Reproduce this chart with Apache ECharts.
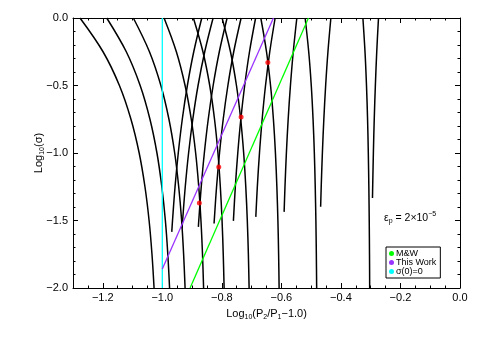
<!DOCTYPE html>
<html>
<head>
<meta charset="utf-8">
<script src="https://cdn.jsdelivr.net/npm/echarts@6/dist/echarts.min.js"></script>
<style>
html, body { margin: 0; padding: 0; background: #fff; }
#chart { width: 485px; height: 339px; }
</style>
</head>
<body>
<div id="chart"></div>
<script>
// log10(sigma) levels used for the left edges of each resonance
const sigmaLevels = [0, -0.25, -0.5, -0.75, -1, -1.25, -1.5, -1.75, -2];

// left edges (x = log10(P2/P1-1)) of the n+1:n resonances, n = 10 .. 2
const leftEdge10 = [-1.2765, -1.1991, -1.1441, -1.1053, -1.0777, -1.0583, -1.0444, -1.0347, -1.0277];
const leftEdge9  = [-1.1867, -1.1210, -1.0744, -1.0415, -1.0180, -1.0016, -0.9897, -0.9815, -0.9756];
const leftEdge8  = [-1.0973, -1.0432, -1.0048, -0.9777, -0.9584, -0.9449, -0.9351, -0.9284, -0.9235];
const leftEdge7  = [-0.9941, -0.9528, -0.9235, -0.9027, -0.8880, -0.8776, -0.8702, -0.8650, -0.8613];
const leftEdge6  = [-0.8956, -0.8635, -0.8407, -0.8246, -0.8131, -0.8051, -0.7993, -0.7953, -0.7924];
const leftEdge5  = [-0.7992, -0.7710, -0.7509, -0.7367, -0.7267, -0.7196, -0.7145, -0.7109, -0.7084];
const leftEdge4  = [-0.6691, -0.6500, -0.6364, -0.6268, -0.6200, -0.6152, -0.6117, -0.6093, -0.6076];
const leftEdge3  = [-0.5202, -0.5082, -0.4996, -0.4936, -0.4893, -0.4863, -0.4841, -0.4826, -0.4815];
const leftEdge2  = [-0.3262, -0.3191, -0.3141, -0.3105, -0.3080, -0.3062, -0.3049, -0.3040, -0.3034];

// right edges, they stop before the bottom: [x, log10(sigma)]
const rightEdge10 = [[-0.8674, 0], [-0.8944, -0.25], [-0.9158, -0.5], [-0.9329, -0.75], [-0.9464, -1], [-0.9572, -1.25], [-0.9657, -1.5], [-0.9682, -1.584]];
const rightEdge9  = [[-0.8294, 0], [-0.8575, -0.25], [-0.8799, -0.5], [-0.8976, -0.75], [-0.9117, -1], [-0.9229, -1.25], [-0.9318, -1.5], [-0.9336, -1.557]];
const rightEdge8  = [[-0.7824, 0], [-0.8085, -0.25], [-0.8292, -0.5], [-0.8457, -0.75], [-0.8588, -1], [-0.8692, -1.25], [-0.8775, -1.5], [-0.8788, -1.547]];
const rightEdge7  = [[-0.7353, 0], [-0.7601, -0.25], [-0.7797, -0.5], [-0.7954, -0.75], [-0.8078, -1], [-0.8177, -1.25], [-0.8255, -1.5], [-0.8261, -1.522]];
const rightEdge6  = [[-0.6866, 0], [-0.7071, -0.25], [-0.7233, -0.5], [-0.7363, -0.75], [-0.7465, -1], [-0.7547, -1.25], [-0.7612, -1.503]];
const rightEdge5  = [[-0.6210, 0], [-0.6390, -0.25], [-0.6533, -0.5], [-0.6646, -0.75], [-0.6736, -1], [-0.6808, -1.25], [-0.6859, -1.473]];
const rightEdge4  = [[-0.5481, 0], [-0.5601, -0.25], [-0.5696, -0.5], [-0.5772, -0.75], [-0.5832, -1], [-0.5879, -1.25], [-0.5908, -1.436]];
const rightEdge3  = [[-0.4338, 0], [-0.4436, -0.25], [-0.4513, -0.5], [-0.4574, -0.75], [-0.4623, -1], [-0.4662, -1.25], [-0.4681, -1.398]];
const rightEdge2  = [[-0.2738, 0], [-0.2797, -0.25], [-0.2843, -0.5], [-0.2881, -0.75], [-0.2910, -1], [-0.2933, -1.25], [-0.2940, -1.333]];

// straight lines and overlap points
const mwLine = [[-0.9067, -2.0], [-0.5091, 0]];
const thisWorkLine = [[-1.0, -1.86], [-0.6267, 0]];
const sigmaZeroLine = [[-1.0, -2.0], [-1.0, 0]];
const overlapPoints = [[-0.8755, -1.370], [-0.8103, -1.104], [-0.7353, -0.734], [-0.6455, -0.329]];

// tick labels
const xTicks = [-1.2, -1.0, -0.8, -0.6, -0.4, -0.2, 0.0];
const yTicks = [0.0, -0.5, -1.0, -1.5, -2.0];

const FONT = '"Liberation Sans", Arial, sans-serif';

const leftEdges = [leftEdge10, leftEdge9, leftEdge8, leftEdge7, leftEdge6, leftEdge5, leftEdge4, leftEdge3, leftEdge2];
const rightEdges = [rightEdge10, rightEdge9, rightEdge8, rightEdge7, rightEdge6, rightEdge5, rightEdge4, rightEdge3, rightEdge2];

function fmt(v) {
    return v.toFixed(1).replace('-', '\u2212');
}

function curve(data) {
    return {
        type: 'line', data: data, smooth: 0.35, showSymbol: false, silent: true,
        lineStyle: { color: '#000', width: 1.5 }, z: 2
    };
}

const series = [];
leftEdges.forEach(xs => series.push(curve(xs.map((x, i) => [x, sigmaLevels[i]]))));
rightEdges.forEach(pts => series.push(curve(pts)));

series.push({ name: 'σ(0)=0', type: 'line', data: sigmaZeroLine, showSymbol: false, color: '#00ffff', lineStyle: { color: '#00ffff', width: 1.3 }, z: 3 });
series.push({ name: 'This Work', type: 'line', data: thisWorkLine, showSymbol: false, color: '#9933ff', lineStyle: { color: '#9933ff', width: 1.3 }, z: 3 });
series.push({ name: 'M&W', type: 'line', data: mwLine, showSymbol: false, color: '#00ff00', lineStyle: { color: '#00ff00', width: 1.3 }, z: 3 });
series.push({ type: 'scatter', data: overlapPoints, symbolSize: 5, itemStyle: { color: '#ff0000' }, z: 4 });

const subRich = {
    s: { fontSize: 7, fontFamily: FONT, color: '#000', verticalAlign: 'bottom', lineHeight: 14 }
};

function xAxisPair(pos, withLabels) {
    return [{
        type: 'value', position: pos, min: -1.3, max: 0,
        axisLine: { show: true, onZero: false, lineStyle: { color: '#000', width: 1 } },
        axisTick: { show: true, inside: true, length: 5, customValues: xTicks, lineStyle: { color: '#000' } },
        axisLabel: { show: withLabels, customValues: xTicks, formatter: fmt, color: '#000', fontSize: 11, fontFamily: FONT, margin: 4 },
        splitLine: { show: false },
        name: withLabels ? 'Log{s|10}(P{s|2}/P{s|1}\u22121.0)' : '',
        nameLocation: 'middle', nameGap: 19, nameMoveOverlap: false,
        nameTextStyle: { fontSize: 11, fontFamily: FONT, color: '#000', lineHeight: 14, rich: subRich }
    }, {
        type: 'value', position: pos, min: -1.3, max: 0, interval: 0.05,
        axisLine: { show: false, onZero: false },
        axisTick: { show: true, inside: true, length: 2.5, lineStyle: { color: '#000' } },
        axisLabel: { show: false }, splitLine: { show: false }
    }];
}

function yAxisPair(pos, withLabels) {
    return [{
        type: 'value', position: pos, min: -2, max: 0, interval: 0.5,
        axisLine: { show: true, onZero: false, lineStyle: { color: '#000', width: 1 } },
        axisTick: { show: true, inside: true, length: 5, lineStyle: { color: '#000' } },
        axisLabel: { show: withLabels, formatter: fmt, color: '#000', fontSize: 11, fontFamily: FONT, margin: 5 },
        splitLine: { show: false },
        name: withLabels ? 'Log{s|10}(σ)' : '',
        nameLocation: 'middle', nameGap: 27, nameMoveOverlap: false,
        nameTextStyle: { fontSize: 11, fontFamily: FONT, color: '#000', lineHeight: 14, rich: subRich }
    }, {
        type: 'value', position: pos, min: -2, max: 0, interval: 0.1,
        axisLine: { show: false, onZero: false },
        axisTick: { show: true, inside: true, length: 2.5, lineStyle: { color: '#000' } },
        axisLabel: { show: false }, splitLine: { show: false }
    }];
}

const chart = echarts.init(document.getElementById('chart'), null, { renderer: 'canvas' });
chart.setOption({
    animation: false,
    backgroundColor: '#fff',
    grid: { left: 73, top: 18, width: 387, height: 270 },
    xAxis: xAxisPair('bottom', true).concat(xAxisPair('top', false)),
    yAxis: yAxisPair('left', true).concat(yAxisPair('right', false)),
    legend: {
        data: ['M&W', 'This Work', 'σ(0)=0'],
        orient: 'vertical', left: 386, top: 247,
        icon: 'circle', itemWidth: 5, itemHeight: 5, itemGap: 0,
        padding: [2, 4, 2, 3],
        borderColor: '#000', borderWidth: 1, borderRadius: 0,
        selectedMode: false,
        textStyle: { fontSize: 9, fontFamily: FONT, color: '#000', lineHeight: 7.5, padding: [0, 0, 0, -3] }
    },
    graphic: [{
        type: 'text', left: 384, top: 211,
        style: {
            text: 'ε{p|p} = 2×10{u|\u22125}',
            fontSize: 10.5, fontFamily: FONT, fill: '#000', lineHeight: 14,
            rich: {
                p: { fontSize: 7, fontFamily: FONT, fill: '#000', verticalAlign: 'bottom', lineHeight: 14 },
                u: { fontSize: 7, fontFamily: FONT, fill: '#000', verticalAlign: 'top', lineHeight: 14 }
            }
        }
    }],
    series: series
});
</script>
</body>
</html>
